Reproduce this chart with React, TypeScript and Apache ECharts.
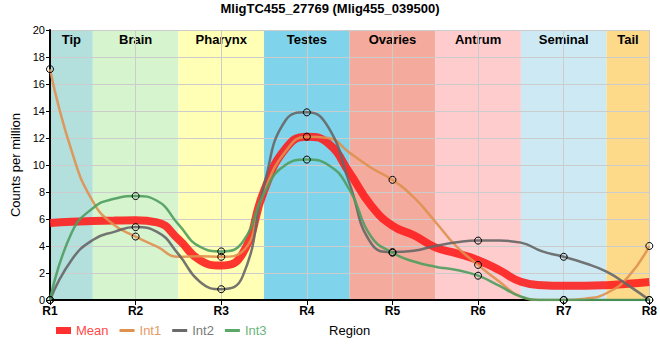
import React, { useEffect, useRef } from 'react';
import * as echarts from 'echarts';

const chartTitle = 'MligTC455_27769 (Mlig455_039500)';
const regionNames = ['Tip', 'Brain', 'Pharynx', 'Testes', 'Ovaries', 'Antrum', 'Seminal', 'Tail'];
const regionStart = [1, 1.5, 2.5, 3.5, 4.5, 5.5, 6.5, 7.5];
const regionEnd = [1.5, 2.5, 3.5, 4.5, 5.5, 6.5, 7.5, 8];
const regionColors = ['#b3e0dd', '#d6f5cf', '#ffffb5', '#7fd4eb', '#f4ab9e', '#ffcccd', '#cdeaf4', '#fdd98a'];
const xTickLabels = ['R1', 'R2', 'R3', 'R4', 'R5', 'R6', 'R7', 'R8'];

// sample positions along the region axis (R1 = 1 ... R8 = 8)
const positions = [1, 1.25, 1.5, 1.75, 2, 2.25, 2.5, 2.75, 3, 3.25, 3.5, 3.75, 4, 4.25, 4.5, 4.75, 5, 5.25, 5.5, 5.75, 6, 6.25, 6.5, 6.75, 7, 7.25, 7.5, 7.75, 8];

const meanValues = [5.7, 5.8, 5.85, 5.88, 5.9, 5.75, 4.5, 2.95, 2.55, 3.45, 8.1, 11.2, 12.1, 11.6, 9.4, 7.0, 5.5, 4.8, 3.9, 3.45, 2.95, 2.2, 1.35, 1.1, 1.06, 1.06, 1.1, 1.2, 1.33];
const int1Values = [17.1, 11.1, 7.3, 5.55, 4.7, 3.95, 3.2, 3.25, 3.2, 3.6, 8.0, 11.0, 12.1, 12.0, 10.9, 9.8, 8.9, 7.6, 5.8, 3.95, 2.6, 1.35, 0.25, 0, 0, 0.1, 0.5, 1.7, 4.0];
const int2Values = [0, 2.95, 4.45, 5.05, 5.4, 5.05, 3.4, 1.35, 0.8, 1.75, 8.5, 13.3, 13.9, 12.8, 8.6, 4.2, 3.55, 3.65, 4.0, 4.27, 4.4, 4.4, 4.25, 3.6, 3.2, 2.72, 2.1, 1.1, 0];
const int3Values = [0, 4.95, 6.8, 7.5, 7.7, 7.35, 5.6, 3.95, 3.6, 4.3, 7.9, 10.0, 10.4, 10.0, 8.15, 4.7, 3.5, 2.85, 2.47, 2.22, 1.8, 1.04, 0.25, 0, 0, 0, 0, 0, 0];

const yTicks = { min: 0, max: 20, interval: 2 };

const FONT = 'Liberation Sans, Arial, sans-serif';

function pairs(vals: number[]) {
  return positions.map((x, i) => [x, vals[i]]);
}

export default function App() {
  const ref = useRef<HTMLDivElement>(null);
  useEffect(() => {
    document.body.style.margin = '0';
    const chart = echarts.init(ref.current as HTMLDivElement, null, { renderer: 'svg' });
    const markerSize = (val: number[]) => (Number.isInteger(val[0]) ? 7 : 0);
    const intSeries = (name: string, vals: number[], color: string) => ({
      name,
      type: 'line',
      data: pairs(vals),
      smooth: 0.5,
      showSymbol: true,
      showAllSymbol: true,
      symbol: 'circle',
      symbolSize: markerSize,
      itemStyle: { color: 'rgba(0,0,0,0)', borderColor: '#000', borderWidth: 1 },
      lineStyle: { color, width: 2.5, opacity: 0.9 },
      z: 3,
    });
    const option: any = {
      animation: false,
      textStyle: { fontFamily: FONT },
      title: {
        text: chartTitle,
        left: 'center',
        top: -3,
        textStyle: { fontSize: 13, fontWeight: 'bold', color: '#000', fontFamily: FONT },
      },
      grid: { left: 50, right: 10, top: 30, bottom: 60 },
      legend: {
        left: 51,
        top: 319,
        itemWidth: 15,
        itemHeight: 7,
        itemGap: 11,
        textStyle: { fontSize: 13, fontFamily: FONT },
        data: [
          { name: 'Mean', icon: 'path://M0,0H15V7H0Z', itemStyle: { color: '#ff3030', borderWidth: 0, opacity: 1 }, textStyle: { color: '#ff4a4a' } },
          { name: 'Int1', icon: 'path://M0,0H15V3H0Z', itemStyle: { color: '#e0904f', borderWidth: 0, opacity: 1 }, textStyle: { color: '#e59a68' } },
          { name: 'Int2', icon: 'path://M0,0H15V3H0Z', itemStyle: { color: '#6a6a6a', borderWidth: 0, opacity: 1 }, textStyle: { color: '#7a7a7a' } },
          { name: 'Int3', icon: 'path://M0,0H15V3H0Z', itemStyle: { color: '#5aa86a', borderWidth: 0, opacity: 1 }, textStyle: { color: '#6db57a' } },
        ],
      },
      xAxis: {
        type: 'value',
        min: 1,
        max: 8,
        interval: 1,
        name: 'Region',
        nameLocation: 'middle',
        nameGap: 24,
        nameTextStyle: { fontSize: 13, color: '#000', fontFamily: FONT },
        axisLine: { lineStyle: { color: '#000', width: 2 } },
        axisTick: { show: true, length: 5, lineStyle: { color: '#000' } },
        axisLabel: {
          fontSize: 12,
          fontWeight: 'bold',
          color: '#000',
          margin: 5,
          formatter: (v: number) => xTickLabels[Math.round(v) - 1] ?? '',
        },
        splitLine: { show: true, lineStyle: { color: '#cccccc', width: 1 } },
      },
      yAxis: {
        type: 'value',
        min: yTicks.min,
        max: yTicks.max,
        interval: yTicks.interval,
        name: 'Counts per million',
        nameLocation: 'middle',
        nameGap: 21,
        nameTextStyle: { fontSize: 13, color: '#000', fontFamily: FONT },
        axisLine: { show: true, lineStyle: { color: '#000', width: 2 } },
        axisTick: { show: true, length: 4, lineStyle: { color: '#000' } },
        axisLabel: { fontSize: 11, color: '#000', margin: 5 },
        splitLine: { show: true, lineStyle: { color: '#cccccc', width: 1 } },
      },
      series: [
        {
          name: 'Bands',
          type: 'line',
          data: [],
          silent: true,
          markArea: {
            z: -1,
            silent: true,
            label: {
              show: true,
              position: 'insideTop',
              distance: 3,
              fontSize: 13,
              fontWeight: 'bold',
              color: '#000',
              fontFamily: FONT,
            },
            data: regionNames.map((n, i) => [
              { name: n, xAxis: regionStart[i], itemStyle: { color: regionColors[i], opacity: 1 } },
              { xAxis: regionEnd[i] },
            ]),
          },
        },
        {
          name: 'Mean',
          type: 'line',
          data: pairs(meanValues),
          smooth: 0.5,
          showSymbol: false,
          itemStyle: { color: '#ff3030' },
          lineStyle: { color: '#ff1a1a', width: 8, opacity: 0.88 },
          z: 2,
        },
        intSeries('Int1', int1Values, '#e0904f'),
        intSeries('Int2', int2Values, '#666666'),
        intSeries('Int3', int3Values, '#4f9d5f'),
      ],
    };
    chart.setOption(option);
    return () => chart.dispose();
  }, []);
  return <div ref={ref} style={{ width: 660, height: 360 }} />;
}
